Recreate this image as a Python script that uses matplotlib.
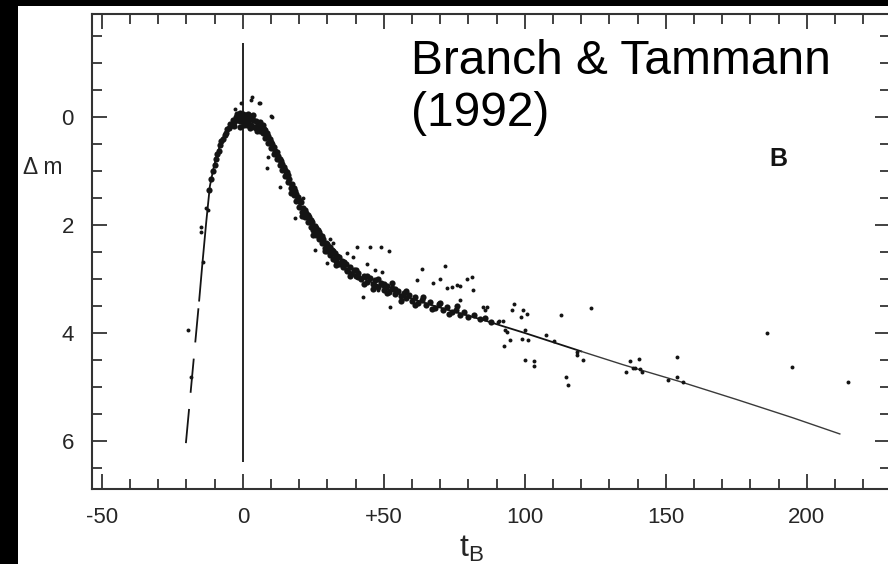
import matplotlib.pyplot as plt
from matplotlib.patches import Rectangle
from matplotlib.ticker import MultipleLocator, FixedLocator

plt.rcParams['font.family'] = ['Liberation Sans', 'DejaVu Sans']

# ---------------- template light curve (B band) ----------------
TEMPLATE_T = [-15.5, -14.5, -13.0, -11.7, -10.5, -9.2, -7.8, -6.4, -4.5, -3.0,
              -1.5, 0.0, 1.5, 3.0, 4.5, 6.0, 7.5, 9.0, 10.5, 12.0, 14.0, 16.0,
              18.0, 20.0, 22.0, 24.0, 26.0, 28.0, 30.0, 32.0, 34.0, 36.0, 38.0,
              40.0, 44.0, 50.0, 56.0, 62.0, 68.0, 74.0, 80.0, 86.0, 92.0, 100.0,
              110.0, 120.0]
TEMPLATE_M = [3.40, 2.80, 1.95, 1.28, 0.97, 0.70, 0.48, 0.31, 0.15, 0.07,
              0.02, 0.0, 0.02, 0.06, 0.11, 0.18, 0.28, 0.42, 0.58, 0.74, 0.95, 1.17,
              1.41, 1.62, 1.82, 1.99, 2.14, 2.29, 2.43, 2.56, 2.68, 2.78, 2.86,
              2.92, 3.02, 3.16, 3.29, 3.40, 3.50, 3.59, 3.68, 3.77, 3.87, 4.00,
              4.17, 4.34]
# faint tail of the template
TAIL_T = [120.0, 135.0, 155.0, 175.0, 195.0, 211.7]
TAIL_M = [4.34, 4.59, 4.90, 5.23, 5.57, 5.87]
# dashed extrapolation before the first observations
RISE_T = [-20.2, -15.5]
RISE_M = [6.04, 3.40]

# ---------------- observations: dense band along the curve ----------------
BAND_T = [-12.0, -11.2, -10.5, -10.0, -9.5, -9.0, -8.6, -8.0, -7.6, -7.0,
          -6.5, -6.0, -5.5, -5.0, -4.5, -4.0, -3.5, -3.0, -2.5, -2.0,
          -1.5, -1.0, -0.5, 0.0, 0.0, 0.5, 1.0, 1.0, 1.5, 2.0,
          2.5, 3.0, 3.5, 4.0, 4.5, 5.0, 5.5, 6.0, 6.5, 7.0,
          7.5, 8.0, 8.5, 9.0, 9.5, 10.0, 10.5, 11.0, 11.5, 12.0,
          12.5, 13.0, 13.5, 14.0, 14.5, 15.0, 15.5, 16.0, 16.5, 17.0,
          17.5, 18.0, 18.5, 19.0, 19.5, 20.0, 20.5, 21.0, 21.5, 22.0,
          22.5, 23.0, 23.5, 24.0, 24.5, 25.0, 25.5, 26.0, 26.5, 27.0,
          27.5, 28.0, 28.5, 29.0, 29.5, 30.0, 30.5, 31.0, 31.5, 32.0,
          32.5, 33.0, 33.5, 34.0, 35.0, 35.5, 36.5, 37.0, 38.0, 38.5,
          39.5, 40.0, 41.0, 42.0, 43.0, 44.0, 45.0, 46.0, 47.0, 48.0,
          49.0, 50.0, 51.0, 52.0, 53.0, 54.0, 55.0, 56.0, 57.0, 58.0,
          59.0, 60.0, 61.0, 62.0, 63.5, 65.0, 66.5, 68.0, 69.5, 71.0,
          72.5, 74.0, 75.5, 77.0, 78.5, 80.0, 82.0, 84.0, 86.0, 88.0,
          -1.0, 0.5, 2.0, 3.0, 4.5, 6.0, 7.0, 9.0, 11.0, 13.0,
          15.0, 17.0, 19.0, 21.0, 23.0, 25.0, 27.0, 29.0, 31.0, 33.0,
          36.0, 38.0, 41.0, 43.0, 46.0, 48.0, 51.0, 53.0, 56.0, 58.0,
          61.0, 64.0, 67.0, 70.0, 73.0, 76.0,
          -3.0, -2.0, -1.0, 1.5, 2.5, 3.5, 5.0, 8.0, 10.0, 12.0,
          14.0, 16.0, 18.0, 20.0, 22.0, 24.0, 26.0, 28.0, 30.0, 32.0,
          34.0, 37.0, 40.0, 44.0, 47.0, 50.0, 54.0]
BAND_M = [1.35, 1.15, 1.00, 0.88, 0.78, 0.68, 0.62, 0.52, 0.45, 0.40,
          0.33, 0.30, 0.22, 0.20, 0.12, 0.15, 0.05, 0.10, 0.00, 0.06,
          -0.04, 0.08, 0.00, -0.05, 0.10, 0.05, -0.03, 0.12, 0.02, 0.10,
          -0.02, 0.14, 0.05, 0.18, 0.08, 0.20, 0.12, 0.25, 0.17, 0.30,
          0.22, 0.38, 0.30, 0.48, 0.40, 0.58, 0.50, 0.68, 0.62, 0.78,
          0.72, 0.88, 0.82, 0.98, 0.92, 1.10, 1.02, 1.20, 1.14, 1.32,
          1.24, 1.45, 1.36, 1.56, 1.48, 1.66, 1.58, 1.76, 1.68, 1.86,
          1.78, 1.94, 1.86, 2.03, 1.95, 2.10, 2.02, 2.19, 2.10, 2.26,
          2.18, 2.34, 2.26, 2.42, 2.33, 2.48, 2.40, 2.55, 2.46, 2.62,
          2.52, 2.66, 2.58, 2.72, 2.66, 2.78, 2.72, 2.84, 2.78, 2.90,
          2.84, 2.95, 2.88, 3.00, 2.94, 3.06, 2.98, 3.10, 3.02, 3.14,
          3.08, 3.20, 3.12, 3.24, 3.17, 3.28, 3.22, 3.32, 3.26, 3.36,
          3.30, 3.40, 3.33, 3.44, 3.38, 3.48, 3.42, 3.53, 3.47, 3.58,
          3.52, 3.62, 3.57, 3.66, 3.62, 3.70, 3.67, 3.74, 3.72, 3.80,
          -0.08, 0.15, -0.06, 0.02, 0.20, 0.10, 0.15, 0.35, 0.56, 0.78,
          0.98, 1.40, 1.42, 1.84, 1.82, 2.18, 2.12, 2.48, 2.40, 2.74,
          2.68, 2.95, 2.96, 3.10, 3.18, 3.00, 3.25, 3.08, 3.40, 3.22,
          3.48, 3.34, 3.56, 3.44, 3.64, 3.50,
          0.16, -0.06, 0.18, 0.14, 0.20, -0.04, 0.26, 0.24, 0.46, 0.64,
          0.86, 1.08, 1.32, 1.54, 1.72, 1.90, 2.06, 2.20, 2.36, 2.48,
          2.60, 2.86, 2.84, 2.94, 3.12, 3.10, 3.18]

# ---------------- observations: scattered points ----------------
SCAT_T = [-0.7, 3.2, 2.8, 5.7, -2.8, 9.9, 8.9, 8.7, 13.1, 21.4,
          18.5, 25.5, 31.0, 32.0, 29.8, -15.0, -14.7, -14.0, -13.1, -12.4,
          -18.4, -19.3, 6.0, 10.2,
          40.4, 45.0, 49.0, 52.0, 39.0, 44.0, 46.8, 49.3, 63.5, 71.6,
          67.4, 69.9, 75.9, 79.4, 81.2, 81.6, 77.0, 72.3, 61.7, 56.4,
          52.1, 42.6, 47.9, 85.0, 90.5, 36.8, 74.0, 77.0,
          85.8, 86.5, 96.0, 95.3, 99.3, 100.7, 98.6, 112.8, 123.4, 91.0,
          92.2, 93.0, 93.6, 100.0, 94.7, 98.9, 101.0, 92.6, 107.4, 110.3,
          118.4, 118.4, 120.6, 100.0, 103.2, 103.2, 114.5, 115.2, 137.2, 140.4,
          139.0, 140.7, 138.5, 135.8, 141.5, 150.7, 153.9, 153.9, 156.0, 186.0,
          194.7, 214.5]
SCAT_M = [-0.26, -0.37, -0.31, -0.26, -0.15, -0.02, 0.74, 0.94, 1.30, 1.50,
          1.87, 2.46, 2.25, 2.34, 2.70, 2.04, 2.12, 2.69, 1.69, 1.72,
          4.81, 3.95, -0.26, 0.00,
          2.40, 2.40, 2.41, 2.48, 2.59, 2.72, 2.83, 2.87, 2.81, 2.76,
          3.07, 3.00, 3.11, 3.00, 2.96, 3.20, 3.39, 3.17, 3.02, 3.39,
          3.52, 3.33, 3.20, 3.52, 3.80, 2.52, 3.15, 3.13,
          3.57, 3.52, 3.47, 3.57, 3.57, 3.65, 3.70, 3.67, 3.54, 3.78,
          3.78, 3.94, 3.98, 3.94, 4.13, 4.11, 4.13, 4.24, 4.04, 4.15,
          4.35, 4.41, 4.50, 4.50, 4.52, 4.61, 4.81, 4.96, 4.52, 4.48,
          4.65, 4.66, 4.64, 4.72, 4.72, 4.87, 4.44, 4.81, 4.91, 4.00,
          4.63, 4.91]

ZERO_LINE_M = (-1.37, 6.39)

X_MAJOR = [-50, 0, 50, 100, 150, 200]
X_LABELS = ['-50', '0', '+50', '100', '150', '200']
Y_MAJOR = [0, 2, 4, 6]
Y_LABELS = ['0', '2', '4', '6']

INK = '#141414'
LABEL = '#262626'

# ====================== FIGURE ======================
fig = plt.figure(figsize=(8.88, 5.64), dpi=100)
fig.patch.set_facecolor('black')
# white paper area (the scan has a black margin on the left and top)
fig.add_artist(Rectangle((18 / 888, 0), 870 / 888, 558 / 564,
                         transform=fig.transFigure, facecolor='white',
                         edgecolor='none', zorder=-5))

ax = fig.add_axes([92 / 888, 75 / 564, 798 / 888, 475 / 564])
ax.set_facecolor('white')
ax.set_xlim(-53.5, 229.5)
ax.set_ylim(6.89, -1.91)

# curve
ax.plot(TEMPLATE_T, TEMPLATE_M, color=INK, lw=1.3, zorder=2)
ax.plot(TAIL_T, TAIL_M, color='#3a3a3a', lw=1.0, zorder=2)
ax.plot(RISE_T, RISE_M, color=INK, lw=1.3, linestyle=(0, (19, 9)), zorder=2)
ax.vlines(0, ZERO_LINE_M[0], ZERO_LINE_M[1], color=INK, lw=1.3, zorder=2)

# observations
ax.scatter(BAND_T, BAND_M, s=20, color=INK, marker='o', lw=0, zorder=3)
ax.scatter(SCAT_T, SCAT_M, s=8, color=INK, marker='o', lw=0, zorder=3)

# ticks on all four sides, pointing inward
ax.xaxis.set_major_locator(FixedLocator(X_MAJOR))
ax.set_xticklabels(X_LABELS)
ax.xaxis.set_minor_locator(MultipleLocator(10))
ax.yaxis.set_major_locator(FixedLocator(Y_MAJOR))
ax.set_yticklabels(Y_LABELS)
ax.yaxis.set_minor_locator(MultipleLocator(0.5))
ax.tick_params(which='both', direction='in', top=True, right=True,
               color='#333333', width=1.3)
ax.tick_params(which='major', length=11, pad=13, labelsize=16, labelcolor=LABEL)
ax.tick_params(which='minor', length=7)
for sp in ax.spines.values():
    sp.set_color('#333333')
    sp.set_linewidth(1.5)

# axis labels
ax.text(-0.062, 0.93, '\u0394 m', transform=ax.get_yaxis_transform(),
        ha='center', va='center', fontsize=16.5, color=LABEL)
ax.text(81.0, -0.095, r'$\mathregular{t_B}$', transform=ax.get_xaxis_transform(),
        ha='center', va='top', fontsize=23, color=LABEL)

# annotations
ax.text(190.0, 0.78, 'B', ha='center', va='center', fontsize=18,
        fontweight='bold', color=INK)
ax.text(59.6, -1.45, 'Branch & Tammann\n(1992)', ha='left', va='top',
        fontsize=34.5, color='black', linespacing=1.2)

fig.savefig('out.png', dpi=100, facecolor=fig.get_facecolor())
